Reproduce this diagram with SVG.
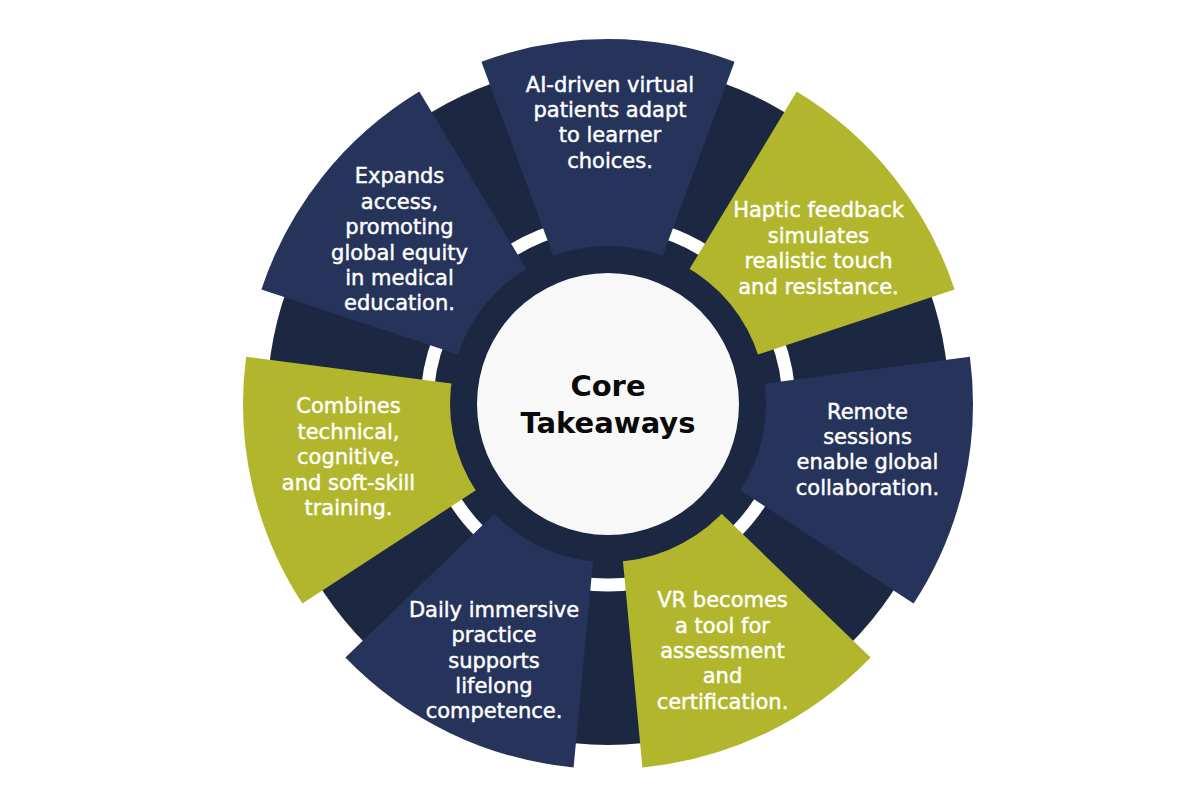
<svg xmlns="http://www.w3.org/2000/svg" width="1200" height="800" viewBox="0 0 1200 800">
<style>
.navy{fill:#26345c}
.olive{fill:#b2b62c}
.lbl{font-family:"DejaVu Sans","Liberation Sans",sans-serif;font-size:21px;fill:#ffffff;stroke:#ffffff;stroke-width:0.45px;text-anchor:middle}
.core{font-family:"DejaVu Sans","Liberation Sans",sans-serif;font-weight:bold;font-size:29px;fill:#0a0a0a;text-anchor:middle}
</style>
<rect width="1200" height="800" fill="#ffffff"/>
<g id="ring">
<circle cx="608" cy="404" r="341" fill="#1c2742"/>
<circle cx="608" cy="404" r="181" fill="none" stroke="#ffffff" stroke-width="13"/>
</g>
<g id="node-ai">
<path class="navy" d="M481.4,61.7 A365,365 0 0 1 734.6,61.7 L660.0,263.3 A150,150 0 0 0 556.0,263.3 Z"/>
<text class="lbl" x="610" y="91.5"><tspan x="610">AI-driven virtual</tspan><tspan x="610" dy="25.4">patients adapt</tspan><tspan x="610" dy="25.4">to learner</tspan><tspan x="610" dy="25.4">choices.</tspan></text>
</g>
<g id="node-haptic">
<path class="olive" d="M796.7,91.5 A365,365 0 0 1 954.6,289.6 L750.4,357.0 A150,150 0 0 0 685.6,275.6 Z"/>
<text class="lbl" x="818.5" y="217.3"><tspan x="818.5">Haptic feedback</tspan><tspan x="818.5" dy="25.4">simulates</tspan><tspan x="818.5" dy="25.4">realistic touch</tspan><tspan x="818.5" dy="25.4">and resistance.</tspan></text>
</g>
<g id="node-remote">
<path class="navy" d="M969.9,356.7 A365,365 0 0 1 913.6,603.6 L733.6,486.0 A150,150 0 0 0 756.7,384.6 Z"/>
<text class="lbl" x="867.5" y="419"><tspan x="867.5">Remote</tspan><tspan x="867.5" dy="25.2">sessions</tspan><tspan x="867.5" dy="25.2">enable global</tspan><tspan x="867.5" dy="25.2">collaboration.</tspan></text>
</g>
<g id="node-vr">
<path class="olive" d="M870.6,657.5 A365,365 0 0 1 642.4,767.4 L622.2,553.3 A150,150 0 0 0 715.9,508.2 Z"/>
<text class="lbl" x="722.5" y="607.3"><tspan x="722.5">VR becomes</tspan><tspan x="722.5" dy="25.3">a tool for</tspan><tspan x="722.5" dy="25.3">assessment</tspan><tspan x="722.5" dy="25.3">and</tspan><tspan x="722.5" dy="25.3">certification.</tspan></text>
</g>
<g id="node-daily">
<path class="navy" d="M573.6,767.4 A365,365 0 0 1 345.4,657.5 L500.1,508.2 A150,150 0 0 0 593.8,553.3 Z"/>
<text class="lbl" x="494" y="617"><tspan x="494">Daily immersive</tspan><tspan x="494" dy="25.3">practice</tspan><tspan x="494" dy="25.3">supports</tspan><tspan x="494" dy="25.3">lifelong</tspan><tspan x="494" dy="25.3">competence.</tspan></text>
</g>
<g id="node-combines">
<path class="olive" d="M302.4,603.6 A365,365 0 0 1 246.1,356.7 L459.3,384.6 A150,150 0 0 0 482.4,486.0 Z"/>
<text class="lbl" x="348.5" y="413.3"><tspan x="348.5">Combines</tspan><tspan x="348.5" dy="25.4">technical,</tspan><tspan x="348.5" dy="25.4">cognitive,</tspan><tspan x="348.5" dy="25.4">and soft-skill</tspan><tspan x="348.5" dy="25.4">training.</tspan></text>
</g>
<g id="node-expands">
<path class="navy" d="M261.4,289.6 A365,365 0 0 1 419.3,91.5 L530.4,275.6 A150,150 0 0 0 465.6,357.0 Z"/>
<text class="lbl" x="399.5" y="183.3"><tspan x="399.5">Expands</tspan><tspan x="399.5" dy="25.4">access,</tspan><tspan x="399.5" dy="25.4">promoting</tspan><tspan x="399.5" dy="25.4">global equity</tspan><tspan x="399.5" dy="25.4">in medical</tspan><tspan x="399.5" dy="25.4">education.</tspan></text>
</g>
<g id="node-core">
<circle cx="608" cy="404" r="158" fill="#1c2742"/>
<circle cx="608" cy="404" r="131" fill="#f8f8f8"/>
<text class="core" x="608" y="396"><tspan x="608">Core</tspan><tspan x="608" dy="37">Takeaways</tspan></text>
</g>
</svg>
